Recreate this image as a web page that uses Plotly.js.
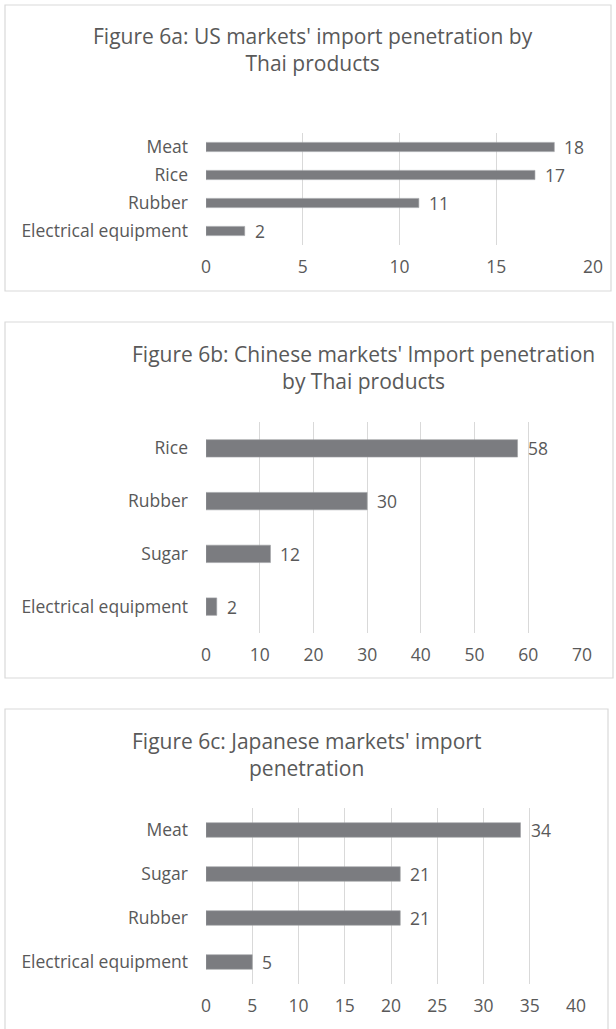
<!DOCTYPE html>
<html><head><meta charset="utf-8">
<script src="https://cdn.plot.ly/plotly-3.0.1.min.js"></script>
<style>html,body{margin:0;padding:0;background:#fff}#chart{width:616px;height:1029px}</style>
</head><body><div id="chart"></div>
<script>
// Data
const catsA = ["Electrical equipment", "Rubber", "Rice", "Meat"];
const valsA = [2, 11, 17, 18];
const titleA = "Figure 6a: US markets' import penetration by<br>Thai products";

const catsB = ["Electrical equipment", "Sugar", "Rubber", "Rice"];
const valsB = [2, 12, 30, 58];
const titleB = "Figure 6b: Chinese markets' Import penetration<br>by Thai products";

const catsC = ["Electrical equipment", "Rubber", "Sugar", "Meat"];
const valsC = [5, 21, 21, 34];
const titleC = "Figure 6c: Japanese markets' import<br>penetration";

const W = 616, H = 1029;
const FONT = "'Open Sans', sans-serif";
const TXT = "#595959";
const BAR = "#7b7c80";
const GRID = "#d9d9d9";
const LBL = 17.5;
const TTL = 21;

function py(p){ return 1 - p / H; }
function px(p){ return p / W; }

const panels = [
  {cats: catsA, vals: valsA, title: titleA, xr: [0, 20], dt: 5, xd: [206, 593], yd: [133, 245], box: [5, 5, 611, 291], tx: 313, ty: 50},
  {cats: catsB, vals: valsB, title: titleB, xr: [0, 70], dt: 10, xd: [206, 582], yd: [422, 633], box: [5, 322, 613, 678], tx: 363, ty: 367},
  {cats: catsC, vals: valsC, title: titleC, xr: [0, 40], dt: 5, xd: [206, 576], yd: [808, 984], box: [5, 709, 608, 1032], tx: 306, ty: 754}
];

const data = [];
const layout = {
  width: W, height: H,
  margin: {l: 0, r: 0, t: 0, b: 0},
  paper_bgcolor: "#fff", plot_bgcolor: "rgba(0,0,0,0)",
  showlegend: false,
  font: {family: FONT, color: TXT, size: LBL},
  shapes: [], annotations: []
};

panels.forEach((p, i) => {
  const s = i === 0 ? "" : String(i + 1);
  data.push({
    type: "bar", orientation: "h",
    x: p.vals, y: p.cats,
    xaxis: "x" + s, yaxis: "y" + s,
    width: 0.33,
    marker: {color: BAR, line: {color: "#a0a1a4", width: 0.6}},
    hoverinfo: "skip"
  });
  layout["xaxis" + s] = {
    domain: [px(p.xd[0]), px(p.xd[1])],
    anchor: "y" + s,
    range: p.xr, dtick: p.dt, tick0: 0,
    showgrid: true, gridcolor: GRID, gridwidth: 1,
    zeroline: false, showline: false, ticks: "",
    ticklabelstandoff: 9,
    tickfont: {family: FONT, size: LBL, color: TXT},
    fixedrange: true
  };
  layout["yaxis" + s] = {
    domain: [py(p.yd[1]), py(p.yd[0])],
    anchor: "x" + s,
    type: "category",
    categoryorder: "array", categoryarray: p.cats,
    range: [-0.5, p.cats.length - 0.5],
    showgrid: false, zeroline: false, showline: false, ticks: "",
    ticklabelstandoff: 17,
    tickfont: {family: FONT, size: LBL, color: TXT},
    fixedrange: true
  };
  p.vals.forEach((v, k) => {
    layout.annotations.push({
      xref: "x" + s, yref: "y" + s, x: v, y: p.cats[k],
      text: String(v), showarrow: false, xanchor: "left", xshift: 8,
      font: {family: FONT, size: LBL, color: TXT}
    });
  });
  layout.annotations.push({
    xref: "paper", yref: "paper", x: px(p.tx), y: py(p.ty),
    text: p.title, showarrow: false, xanchor: "center", yanchor: "middle",
    align: "center",
    font: {family: FONT, size: TTL, color: TXT}
  });
  layout.shapes.push({
    type: "rect", xref: "paper", yref: "paper",
    x0: px(p.box[0]), x1: px(p.box[2]), y0: py(p.box[3]), y1: py(p.box[1]),
    line: {color: "#d9d9d9", width: 1.2}, fillcolor: "rgba(0,0,0,0)", layer: "below"
  });
});

Plotly.newPlot("chart", data, layout, {staticPlot: true, displayModeBar: false});
</script>
</body></html>
